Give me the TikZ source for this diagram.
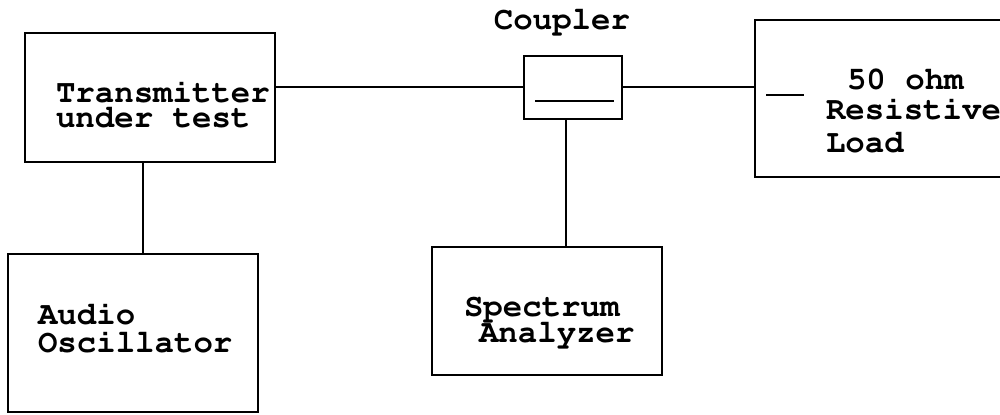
\documentclass[tikz,border=0pt]{standalone}
\usepackage[T1]{fontenc}
\usepackage{courier}
\tikzset{
	unit/.style={draw, line width=1pt, inner sep=0pt},
	lbl/.style={anchor=base west, inner sep=0pt, text height=0.58em, text depth=0.08em, font=\ttfamily\bfseries\fontsize{16.2}{19}\selectfont},
}
\begin{document}
\begin{tikzpicture}[x=0.5pt, y=-0.5pt, line width=1pt]
	\clip (0,0) rectangle (1000,415);
	% boxes
	\node [unit, minimum width=125pt, minimum height=64.5pt] (tx) at (150,97.5) {};
	\node [unit, minimum width=125pt, minimum height=79pt] (osc) at (133,333) {};
	\node [unit, minimum width=49pt, minimum height=31.5pt] (cpl) at (573,87.5) {};
	\node [unit, minimum width=115pt, minimum height=64pt] (spa) at (547,311) {};
	\node [unit, minimum width=127.5pt, minimum height=78.5pt] (load) at (882.5,98.5) {};
	% lines inside coupler and load
	\draw ([xshift=6pt, yshift=9.5pt]cpl.south west) -- ([xshift=-4.5pt, yshift=9.5pt]cpl.south east);
	\draw ([xshift=6pt, yshift=1.75pt]load.west) -- ++(19pt,0pt);
	% connections
	\draw (cpl.west) -- (cpl.west -| tx.east);
	\draw (cpl.east) -- (cpl.east -| load.west);
	\draw ([xshift=-3.5pt]tx.south) -- ([xshift=-3.5pt]tx.south |- osc.north);
	\draw ([xshift=-3.5pt]cpl.south) -- ([xshift=-3.5pt]cpl.south |- spa.north);
	% texts
	\node [lbl, anchor=base] (cpltxt) at (562,30) {Coupler};
	\node [lbl] (txa) at (55,103) {Transmitter};
	\node [lbl] (txb) at (55,128) {under test};
	\node [lbl] (osca) at (37,325) {Audio};
	\node [lbl] (oscb) at (37,353) {Oscillator};
	\node [lbl] (spaa) at (463,317) {Spectrum};
	\node [lbl] (spab) at (478,343) {Analyzer};
	\node [lbl] (loada) at (846,90) {50 ohm};
	\node [lbl] (loadb) at (825,120) {Resistive};
	\node [lbl] (loadc) at (825,153) {Load};
\end{tikzpicture}
\end{document}
